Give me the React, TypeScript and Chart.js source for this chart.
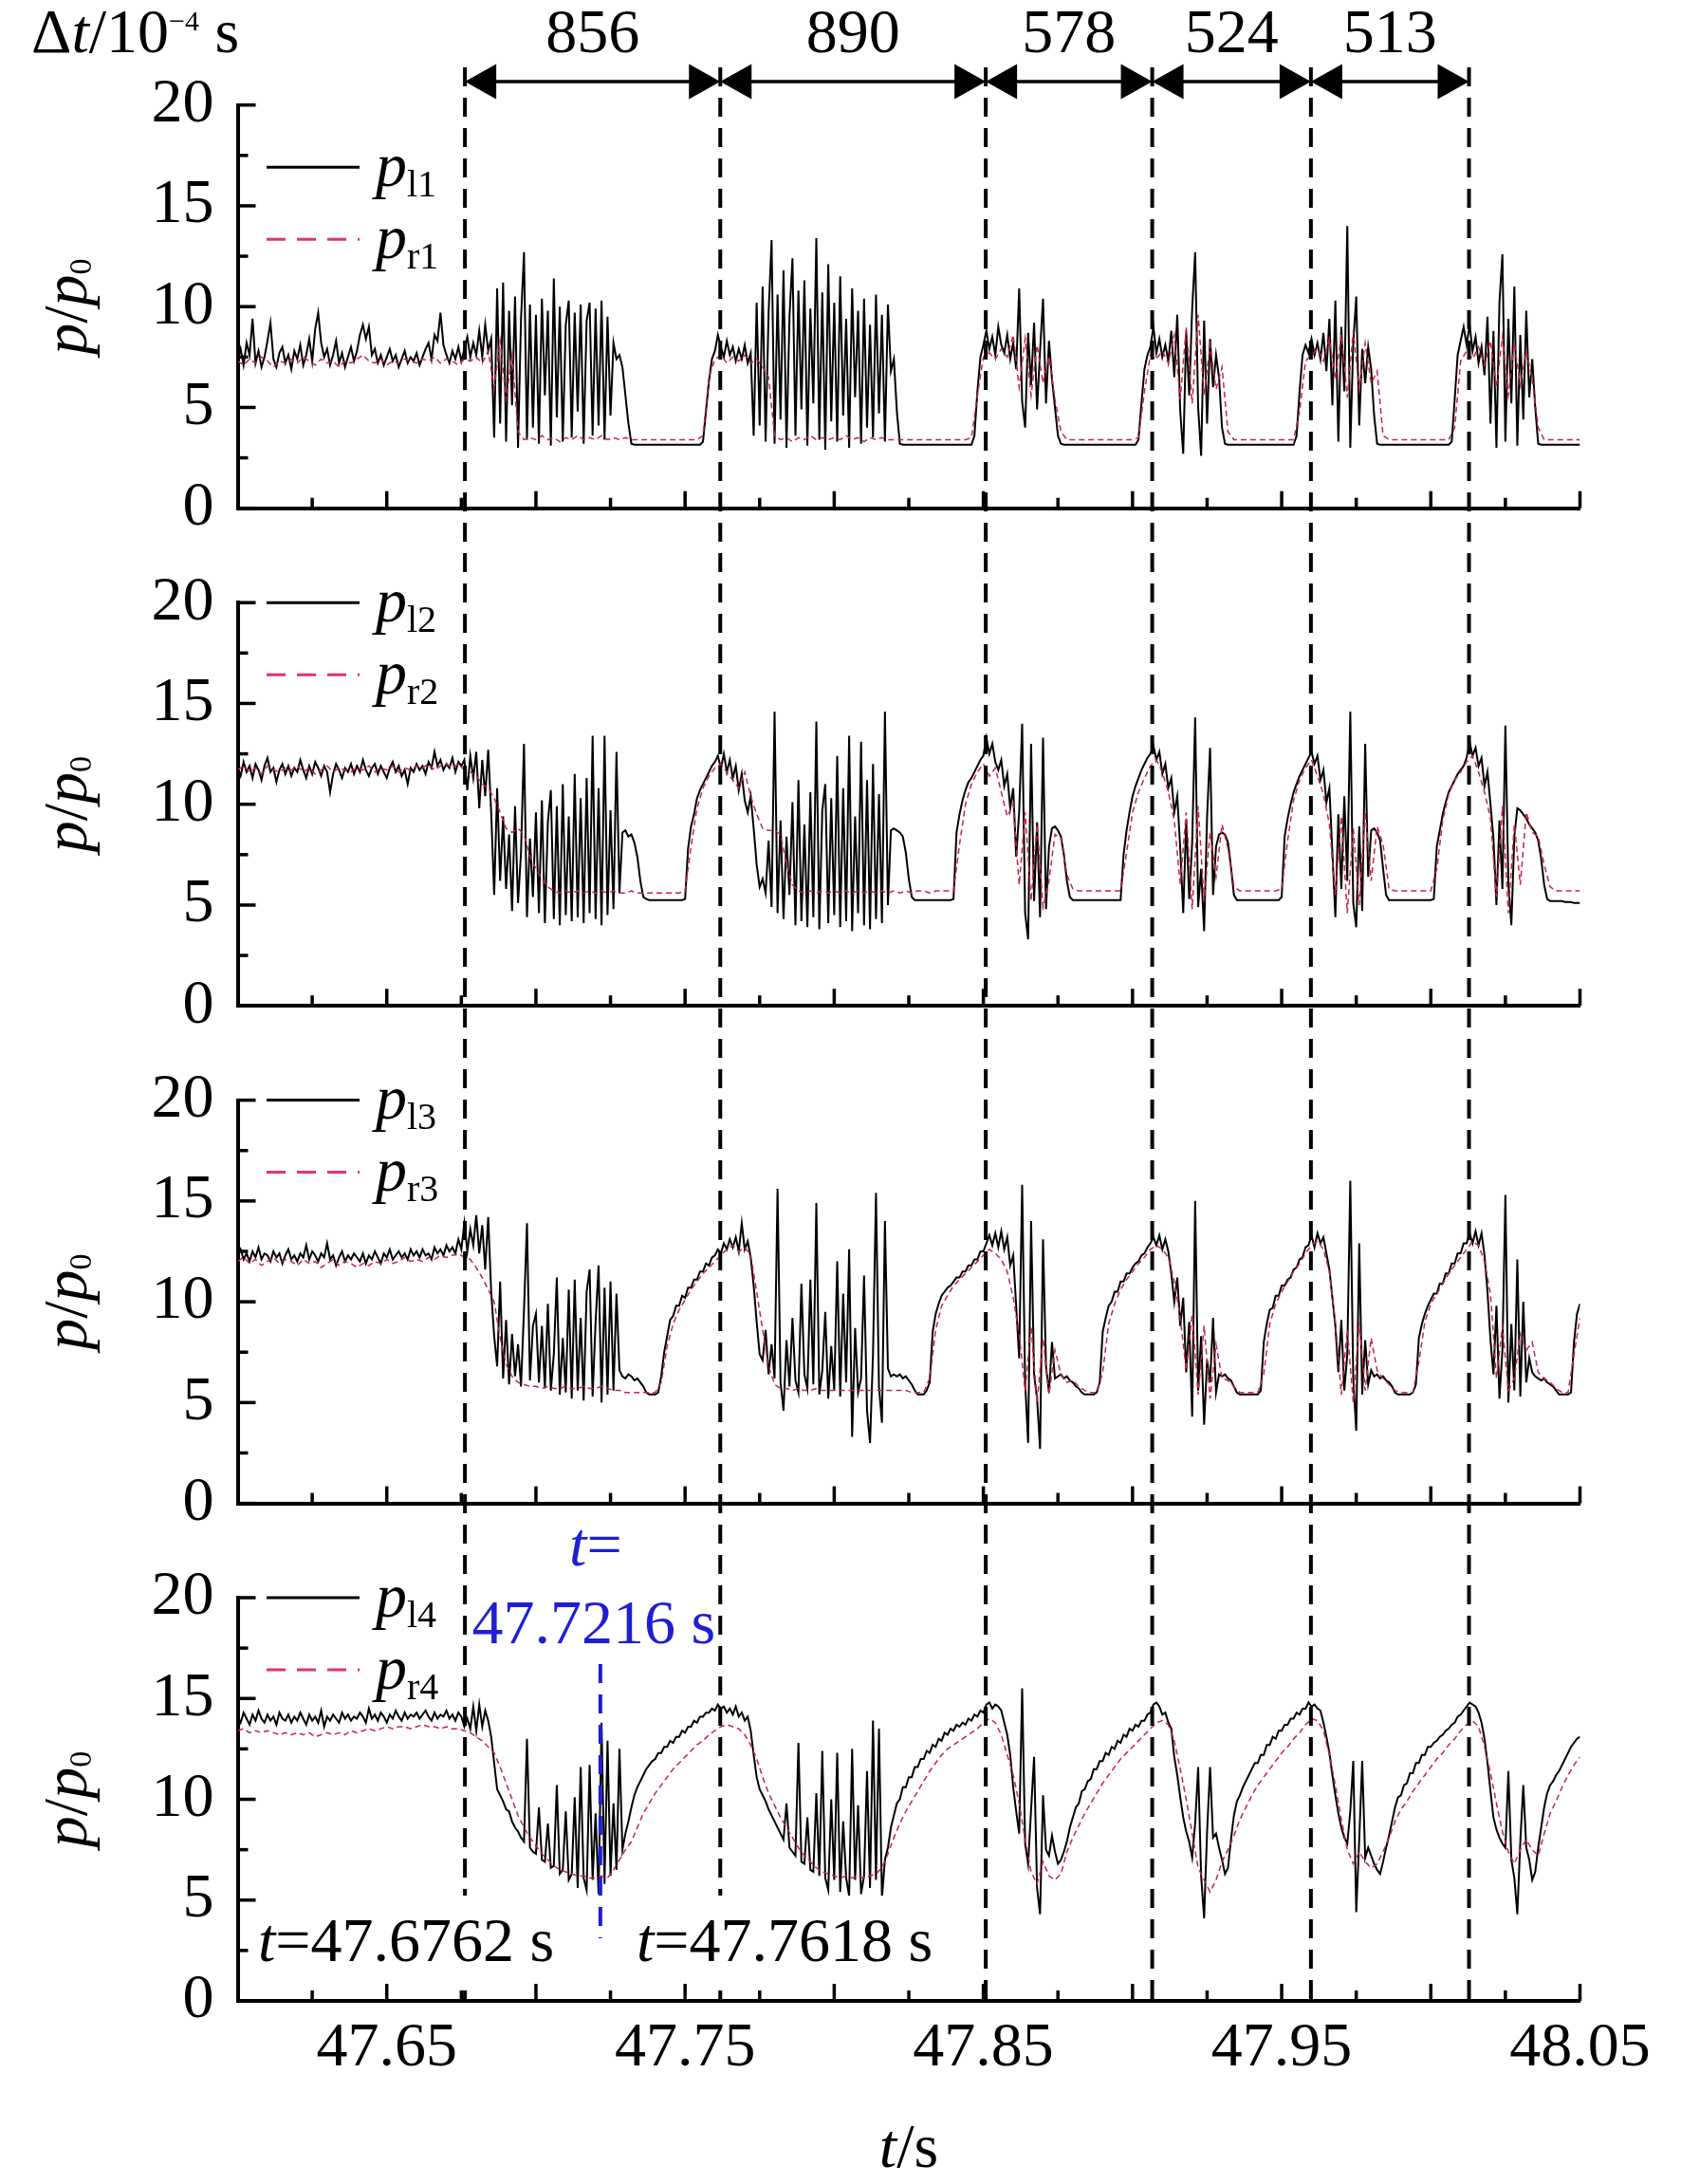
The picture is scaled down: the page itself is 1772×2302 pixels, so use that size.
import React, { useEffect, useRef } from 'react';
import { Chart, registerables } from 'chart.js';

Chart.register(...registerables);

// ---------------- values ----------------
const T0 = 47.6;            // start time of every data row set
const ROW_SPAN = 0.02;      // every row below covers 0.02 s
const DT_L = 0.001;         // p_l sample step inside a row
const DT_R = 0.002;         // p_r sample step inside a row
const X_MIN = 47.6;
const X_MAX = 48.05;
const X_LABELS = [47.65, 47.75, 47.85, 47.95, 48.05];
const X_TICK_STEP = 0.025;
const Y_TICKS = [0, 5, 10, 15, 20];
const Y_MINOR_STEP = 2.5;
const BOUNDARIES = [47.6762, 47.7618, 47.8508, 47.9066, 47.9598, 48.0128];
const INTERVAL_LABELS = ['856', '890', '578', '524', '513'];
const MARK_T = 47.7216;
const LEFT_NAMES = ['l1', 'l2', 'l3', 'l4'];
const RIGHT_NAMES = ['r1', 'r2', 'r3', 'r4'];

// panel 1
const P1_L = [
  [7.3,7.9,7.1,8.2,7.6,9.4,7.2,7.8,7.0,7.5,8.3,9.2,7.4,7.0,7.7,8.0,7.2,7.6,6.9,7.8],
  [7.4,8.1,7.1,7.6,8.4,7.3,8.9,9.7,8.2,7.5,7.9,7.1,7.6,8.3,7.2,7.7,7.0,7.5,8.0,7.3],
  [7.8,8.6,9.1,8.4,9.0,7.6,7.9,7.2,7.6,7.1,7.5,7.9,7.3,7.6,7.0,7.4,7.8,7.2,7.5,7.3],
  [7.7,7.1,7.5,7.9,8.2,7.4,8.6,8.3,9.7,8.1,7.6,7.2,7.8,7.4,8.0,7.3,7.9,8.5,7.5,8.2],
  [7.6,8.8,7.5,9.1,7.8,8.4,3.5,10.9,4.2,11.2,3.3,9.8,5.1,10.5,3.0,9.4,12.7,3.4,10.1,4.0],
  [9.6,3.2,10.4,5.6,9.8,3.1,11.4,4.5,10.0,3.3,9.1,10.3,3.5,9.7,4.8,10.1,3.2,9.3,10.2,3.6],
  [9.9,4.1,10.3,3.4,9.5,4.6,8.2,7.4,7.6,7.0,5.6,4.2,3.2,3.15,3.15,3.15,3.15,3.15,3.15,3.15],
  [3.15,3.15,3.15,3.15,3.15,3.15,3.15,3.15,3.15,3.15,3.15,3.15,3.15,3.15,3.15,3.15,3.3,4.8,6.3,7.4],
  [7.8,8.6,8.0,7.5,8.3,7.6,8.0,7.3,7.9,7.4,8.1,7.2,7.7,3.6,10.2,4.1,11.0,3.3,9.7,13.3],
  [3.2,10.6,4.4,11.8,3.0,9.5,12.4,3.6,10.8,4.9,11.3,3.1,9.9,5.2,13.4,3.4,10.7,2.9,12.1,4.3],
  [10.2,3.3,11.5,4.6,9.4,3.0,10.9,5.5,9.8,3.2,10.4,4.0,9.1,3.5,10.6,4.7,9.6,3.3,10.1,6.8],
  [7.4,4.8,3.2,3.15,3.15,3.15,3.15,3.15,3.15,3.15,3.15,3.15,3.15,3.15,3.15,3.15,3.15,3.15,3.15,3.15],
  [3.15,3.15,3.15,3.15,3.15,3.15,3.15,3.6,5.8,7.5,8.1,8.8,7.9,8.5,7.6,9.0,8.1,7.7,8.6,7.4],
  [8.2,6.9,10.9,5.3,4.0,8.7,6.1,9.2,4.9,7.8,10.4,5.2,8.3,6.4,5.0,3.6,3.2,3.15,3.15,3.15],
  [3.15,3.15,3.15,3.15,3.15,3.15,3.15,3.15,3.15,3.15,3.15,3.15,3.15,3.15,3.15,3.15,3.15,3.15,3.15,3.15],
  [3.15,3.15,3.4,5.2,6.9,7.6,8.0,9.0,7.7,8.4,7.5,8.1,7.3,8.8,6.5,9.6,4.8,2.7,8.7,5.6],
  [9.9,12.7,5.0,2.6,9.3,4.2,8.4,6.0,7.6,6.5,4.0,3.2,3.15,3.15,3.15,3.15,3.15,3.15,3.15,3.15],
  [3.15,3.15,3.15,3.15,3.15,3.15,3.15,3.15,3.15,3.15,3.15,3.15,3.15,3.15,3.15,3.6,5.8,7.6,8.1,7.7],
  [8.4,7.6,8.2,7.4,8.7,6.8,9.4,5.1,10.3,3.3,9.0,5.8,14.0,3.0,8.2,10.5,4.1,7.9,6.2,8.0],
  [6.9,4.6,3.2,3.15,3.15,3.15,3.15,3.15,3.15,3.15,3.15,3.15,3.15,3.15,3.15,3.15,3.15,3.15,3.15,3.15],
  [3.15,3.15,3.15,3.15,3.15,3.15,3.15,3.3,5.4,7.6,8.3,9.0,8.1,9.1,7.8,8.5,7.2,8.0,6.6,9.5],
  [4.2,8.8,3.0,10.2,12.6,3.3,9.4,5.2,11.0,3.1,8.6,4.4,9.8,5.5,7.4,5.0,3.2,3.15,3.15,3.15],
  [3.15,3.15,3.15,3.15,3.15,3.15,3.15,3.15,3.15,3.15,3.15],
];
const P1_R = [
  [7.3,7.1,7.4,7.2,7.5,7.3,7.0,7.3,7.2,7.4],
  [7.2,7.5,7.3,7.1,7.4,7.2,7.3,7.0,7.3,7.2],
  [7.4,7.6,7.3,7.2,7.4,7.1,7.3,7.2,7.4,7.3],
  [7.2,7.4,7.3,7.5,7.2,7.4,7.3,7.1,7.4,7.3],
  [7.5,7.2,7.8,6.0,8.3,5.4,7.6,3.8,3.4,3.5],
  [3.4,3.6,3.4,3.5,3.3,3.5,3.4,3.6,3.4,3.5],
  [3.4,3.6,3.4,3.5,3.4,3.5,3.4,3.4,3.4,3.4],
  [3.4,3.4,3.4,3.4,3.4,3.4,3.4,3.4,3.6,6.5],
  [7.4,7.6,7.2,7.5,7.3,7.6,7.2,7.4,7.0,6.5],
  [3.6,3.4,3.5,3.3,3.5,3.4,3.6,3.4,3.5,3.4],
  [3.5,3.4,3.6,3.4,3.5,3.3,3.5,3.4,3.5,3.4],
  [3.4,3.4,3.4,3.4,3.4,3.4,3.4,3.4,3.4,3.4],
  [3.4,3.4,3.4,3.5,5.6,7.5,7.7,7.4,7.9,7.5],
  [8.6,6.0,8.4,5.6,8.1,6.2,7.5,5.4,3.8,3.4],
  [3.4,3.4,3.4,3.4,3.4,3.4,3.4,3.4,3.4,3.4],
  [3.4,3.5,5.8,7.6,7.4,7.8,7.2,8.6,5.4,9.0],
  [5.2,9.6,5.6,8.1,5.9,7.0,3.8,3.4,3.4,3.4],
  [3.4,3.4,3.4,3.4,3.4,3.4,3.4,3.4,4.8,7.3],
  [7.6,7.9,7.3,8.4,6.4,8.6,5.5,8.8,5.9,8.2],
  [6.2,6.8,3.6,3.4,3.4,3.4,3.4,3.4,3.4,3.4],
  [3.4,3.4,3.4,3.4,4.0,7.3,7.8,7.4,8.0,7.1],
  [8.3,6.0,8.5,5.6,8.2,6.1,7.8,6.4,4.0,3.4],
  [3.4,3.4,3.4,3.4,3.4,3.4],
];

// panel 2
const P2_L = [
  [11.8,11.4,12.1,11.6,11.9,11.3,12.0,11.7,11.2,11.9,12.3,11.6,11.8,11.1,11.7,12.0,11.5,11.9,11.4,11.8],
  [11.6,12.2,11.7,11.3,11.9,11.5,12.1,11.8,11.4,11.9,11.6,10.6,11.5,12.0,11.7,11.3,11.8,11.6,12.0,11.5],
  [11.9,11.6,12.2,11.7,11.4,11.8,12.0,11.5,11.9,11.6,11.3,11.8,12.1,11.6,11.9,11.4,11.7,11.0,11.8,11.6],
  [12.0,11.7,11.9,11.5,12.1,11.8,12.6,11.9,12.2,11.7,12.0,11.8,12.3,11.6,12.1,11.9,12.2,10.7,12.4,11.3],
  [12.6,9.8,12.2,10.4,12.7,9.6,5.5,10.8,6.2,9.4,5.8,8.5,4.7,9.9,5.1,7.6,13.0,4.4,8.3,5.4],
  [9.6,4.6,10.2,4.1,9.1,10.7,4.3,9.9,4.0,11.0,4.5,9.4,4.2,11.5,4.4,10.3,4.1,11.3,4.6,13.4],
  [4.3,10.8,4.0,13.4,4.5,9.7,4.8,12.6,5.6,8.6,8.7,8.4,8.5,8.1,7.4,6.2,5.4,5.3,5.25,5.25],
  [5.25,5.25,5.25,5.25,5.25,5.25,5.25,5.25,5.25,5.25,5.3,7.8,8.9,9.5,10.3,10.7,11.0,11.3,11.6,11.9],
  [12.1,12.4,11.8,12.5,11.6,12.2,11.3,11.9,10.7,11.5,10.2,9.6,10.4,8.8,7.0,5.9,6.3,5.6,8.2,4.9],
  [14.6,4.6,9.2,4.3,8.4,5.5,10.1,4.0,11.2,4.2,9.0,3.9,10.6,4.4,14.1,3.8,9.7,11.0,4.1,10.3],
  [4.5,12.4,3.9,10.8,4.2,13.4,3.7,9.4,4.6,13.1,4.0,11.2,3.8,12.0,4.3,10.5,4.1,14.6,5.0,8.7],
  [8.8,8.7,8.6,8.4,7.6,6.3,5.4,5.25,5.25,5.25,5.25,5.25,5.25,5.25,5.25,5.25,5.25,5.25,5.25,5.25],
  [5.3,8.6,9.5,10.2,10.7,11.1,11.3,11.6,11.9,12.2,12.4,13.3,12.5,13.0,12.1,11.7,12.2,10.9,11.5,9.8],
  [10.8,7.4,9.6,14.0,4.6,3.3,13.0,5.2,9.1,4.4,13.3,4.8,7.9,8.8,8.9,8.7,8.4,7.5,6.2,5.4],
  [5.25,5.25,5.25,5.25,5.25,5.25,5.25,5.25,5.25,5.25,5.25,5.25,5.25,5.25,5.25,5.25,5.25,7.5,8.7,9.6],
  [10.4,10.9,11.3,11.7,12.0,12.3,12.5,12.9,12.2,12.6,11.5,12.0,10.8,11.3,9.6,10.4,7.8,4.6,9.2,5.3],
  [8.1,14.3,4.9,6.8,3.7,9.4,12.8,5.5,7.9,8.5,8.6,8.5,8.1,6.9,5.5,5.25,5.25,5.25,5.25,5.25],
  [5.25,5.25,5.25,5.25,5.25,5.25,5.25,5.25,5.25,5.25,5.4,8.4,9.3,10.0,10.6,11.0,11.4,11.7,12.0,12.3],
  [12.6,12.0,12.4,11.2,11.7,10.1,10.8,7.6,4.4,9.5,5.8,10.4,6.2,14.6,5.1,3.9,8.9,4.7,13.0,6.4],
  [8.7,8.8,8.6,8.2,6.8,5.5,5.25,5.25,5.25,5.25,5.25,5.25,5.25,5.25,5.25,5.25,5.25,5.25,5.25,5.25],
  [5.25,5.3,7.9,8.7,9.5,10.1,10.6,10.9,11.2,11.5,11.7,11.9,12.3,13.1,12.4,12.8,11.9,12.3,10.9,11.6],
  [10.0,8.3,5.0,9.2,5.8,13.9,6.1,4.0,8.4,9.8,9.7,9.5,9.3,9.0,8.8,8.6,8.2,7.3,6.0,5.3],
  [5.2,5.2,5.2,5.2,5.2,5.15,5.15,5.15,5.1,5.1,5.1],
];
const P2_R = [
  [11.7,11.9,11.6,11.8,11.5,11.9,11.7,11.6,11.8,11.7],
  [11.9,11.6,11.8,11.5,11.7,11.9,11.6,11.8,11.7,11.6],
  [11.8,11.7,11.9,11.6,11.8,11.7,11.9,11.6,11.8,11.7],
  [11.9,11.8,12.0,11.7,11.9,12.0,11.8,12.0,11.7,11.6],
  [11.4,11.0,10.8,10.3,9.6,8.8,8.6,8.8,8.5,7.4],
  [6.8,6.3,5.9,5.7,5.6,5.7,5.6,5.7,5.6,5.7],
  [5.6,5.7,5.6,5.7,5.6,5.6,5.7,5.6,5.6,5.6],
  [5.6,5.6,5.6,5.6,5.6,5.7,7.9,9.8,10.8,11.4],
  [11.8,12.0,11.6,11.2,10.8,11.6,10.4,9.5,8.8,8.7],
  [8.7,8.5,7.0,6.0,5.7,5.6,5.7,5.6,5.7,5.6],
  [5.7,5.6,5.7,5.6,5.7,5.6,5.7,5.6,5.7,5.6],
  [5.7,5.6,5.7,5.6,5.7,5.7,5.6,5.7,5.7,5.7],
  [5.7,8.0,10.0,11.0,11.6,12.0,11.4,11.8,10.6,9.4],
  [10.0,6.0,9.6,5.2,9.0,4.9,6.2,8.5,8.3,6.5],
  [5.8,5.7,5.7,5.7,5.7,5.7,5.7,5.7,5.7,7.6],
  [9.6,10.6,11.3,11.9,12.2,11.6,10.6,9.2,6.0,9.6],
  [4.8,9.9,5.2,8.6,6.4,9.0,7.8,5.9,5.7,5.7],
  [5.7,5.7,5.7,5.7,5.7,5.8,8.2,10.2,11.2,11.8],
  [12.2,11.4,10.5,9.0,5.5,9.4,4.6,8.8,5.0,9.6],
  [6.2,8.9,8.0,5.8,5.7,5.7,5.7,5.7,5.7,5.7],
  [5.7,6.8,9.2,10.5,11.2,11.6,12.1,12.4,11.6,10.6],
  [9.3,5.4,9.9,4.6,9.0,6.0,9.6,8.6,8.4,7.0],
  [5.9,5.7,5.7,5.7,5.7,5.7],
];

// panel 3
const P3_L = [
  [12.3,12.6,12.1,12.4,12.0,12.5,12.2,12.7,12.1,12.4,12.3,12.0,12.5,12.2,12.4,11.9,12.3,12.6,12.1,12.3],
  [12.0,12.4,12.2,12.8,12.1,12.5,12.3,12.0,12.4,12.2,12.9,12.1,12.3,11.8,12.2,12.5,12.0,12.3,12.1,12.4],
  [12.2,12.0,12.4,11.9,12.3,12.1,12.5,12.2,11.9,12.4,12.2,12.6,12.1,12.3,12.5,12.2,12.4,12.1,12.6,12.3],
  [12.5,12.2,12.6,12.3,12.4,12.1,12.7,12.4,12.6,12.3,12.8,12.5,12.7,12.4,13.1,12.6,13.9,12.5,13.6,12.8],
  [14.3,12.4,13.8,11.6,14.2,10.5,8.3,6.8,11.0,6.2,9.1,5.9,8.4,6.3,7.9,5.8,9.6,13.9,6.1,8.8],
  [9.4,6.0,8.8,5.7,9.9,5.6,7.4,11.2,5.4,8.2,5.5,10.6,5.2,11.1,5.6,9.2,5.1,10.5,11.6,5.3],
  [9.0,11.8,5.0,10.7,5.4,11.0,5.6,10.4,6.6,6.3,6.2,6.4,6.3,6.1,6.2,6.0,5.8,5.5,5.4,5.4],
  [5.4,5.5,6.3,7.5,8.3,9.1,9.3,9.8,9.8,10.3,10.2,10.7,10.7,11.1,11.1,11.5,11.5,11.9,11.8,12.2],
  [12.3,12.6,12.4,12.9,12.6,13.1,12.7,13.2,12.5,13.9,12.6,13.0,12.2,10.8,9.0,7.4,7.1,8.6,6.4,7.9],
  [6.2,15.6,6.0,4.6,8.1,5.8,9.2,6.1,5.5,10.9,6.4,5.7,11.1,5.9,14.9,5.4,6.6,9.5,5.2,7.8],
  [5.6,12.0,5.3,10.4,6.0,12.6,3.3,8.7,5.5,6.2,11.3,4.6,3.0,7.4,15.4,5.8,4.0,14.0,6.7,6.3],
  [6.4,6.3,6.4,6.2,6.3,6.1,5.9,5.6,5.4,5.4,5.4,5.6,6.0,8.5,9.4,9.9,10.3,10.5,10.7,10.8],
  [11.0,11.2,11.2,11.5,11.5,11.8,11.8,12.1,12.1,12.5,12.5,12.9,13.3,12.8,13.4,12.7,13.5,12.6,13.2,11.8],
  [12.3,9.8,7.2,15.8,6.0,3.0,14.0,6.4,5.2,2.7,13.1,6.8,5.5,8.0,6.2,6.3,6.4,6.2,6.3,6.1],
  [6.0,5.8,5.7,5.5,5.4,5.4,5.4,5.4,5.5,6.0,8.5,9.2,9.8,10.0,10.5,10.5,11.0,11.0,11.4,11.4],
  [11.7,11.9,12.0,12.3,12.4,12.7,12.9,13.2,12.8,13.3,12.6,13.1,12.5,11.4,10.0,11.2,8.8,10.2,6.5,9.0],
  [4.3,15.0,5.6,8.3,3.9,7.1,6.0,9.2,5.5,6.4,6.3,6.4,6.2,6.1,5.8,5.5,5.4,5.4,5.4,5.4],
  [5.4,5.4,5.4,5.6,8.0,8.9,9.6,9.7,10.3,10.3,10.8,10.8,11.1,11.2,11.6,11.7,12.1,12.2,12.7,12.8],
  [13.3,12.7,13.4,12.9,13.2,12.4,11.6,10.2,8.8,6.5,9.1,5.6,7.4,16.0,6.2,3.6,12.9,5.4,8.1,5.9],
  [6.6,6.3,6.4,6.2,6.3,6.1,6.0,5.8,5.5,5.4,5.4,5.4,5.4,5.4,5.5,5.9,8.2,8.9,9.4,9.8],
  [10.1,10.4,10.4,10.9,10.9,11.4,11.4,11.9,11.9,12.4,12.4,12.9,12.9,13.4,12.9,13.5,12.8,13.4,12.3,10.5],
  [8.1,6.4,9.8,5.2,7.6,15.3,5.0,8.9,5.6,12.1,5.3,10.0,6.0,7.2,6.5,6.3,6.2,6.1,6.2,6.0],
  [5.9,5.8,5.6,5.4,5.4,5.4,5.4,5.5,8.0,9.4,9.9],
];
const P3_R = [
  [12.0,12.2,11.9,12.1,11.8,12.0,12.2,11.9,12.1,12.0],
  [11.8,12.1,11.9,12.0,11.7,11.9,12.1,11.8,12.0,11.9],
  [11.7,11.9,11.8,12.0,11.9,12.1,11.9,12.0,12.2,12.0],
  [12.1,12.0,12.2,12.1,12.3,12.2,12.3,12.4,12.2,12.1],
  [11.7,11.2,10.6,10.0,8.2,6.9,6.3,6.0,5.9,5.8],
  [5.8,5.7,5.8,5.7,5.7,5.8,5.7,5.7,5.8,5.7],
  [5.7,5.8,5.7,5.6,5.6,5.5,5.5,5.5,5.5,5.5],
  [5.5,6.0,7.8,8.9,9.6,10.1,10.6,11.0,11.4,11.7],
  [12.0,12.3,12.6,12.8,12.5,12.7,12.3,10.5,8.6,6.8],
  [5.9,5.7,5.7,5.6,5.7,5.6,5.6,5.7,5.6,5.6],
  [5.6,5.6,5.6,5.6,5.6,5.6,5.6,5.6,5.6,5.6],
  [5.6,5.6,5.6,5.5,5.5,5.5,6.2,8.6,9.8,10.3],
  [10.8,11.1,11.4,11.7,12.0,12.3,12.6,12.4,12.1,11.5],
  [10.2,8.4,5.6,8.8,5.0,8.2,5.4,7.6,6.4,6.0],
  [6.1,5.8,5.6,5.5,5.5,6.5,8.9,9.9,10.6,11.1],
  [11.5,11.9,12.2,12.6,12.8,12.6,12.2,11.0,9.2,6.6],
  [9.4,5.4,8.8,5.2,7.9,6.2,6.1,5.8,5.5,5.5],
  [5.5,5.5,6.4,8.9,9.9,10.5,11.0,11.5,11.9,12.4],
  [12.8,13.0,12.6,11.5,9.0,5.4,8.6,5.0,9.0,5.6],
  [8.2,6.6,6.2,5.9,5.6,5.5,5.5,5.5,7.0,9.0],
  [9.9,10.4,10.9,11.4,11.8,12.2,12.6,13.0,12.8,12.0],
  [10.4,6.2,8.8,5.6,6.2,8.4,7.6,8.0,6.5,6.2],
  [6.0,5.7,5.5,5.5,7.4,9.2],
];

// panel 4
const P4_L = [
  [14.1,13.8,14.3,14.0,13.7,14.2,13.9,14.4,14.0,13.8,14.2,13.9,14.1,13.7,14.3,14.0,13.9,14.2,13.8,14.1],
  [13.9,14.3,14.0,13.7,14.2,13.9,14.1,13.8,14.4,13.6,14.1,13.9,14.2,14.0,13.8,14.3,14.0,14.2,13.9,14.1],
  [14.0,14.3,14.1,13.8,14.5,14.0,14.2,13.9,14.3,14.1,13.8,14.2,14.0,14.4,14.1,13.9,14.3,14.0,14.2,14.1],
  [14.3,14.0,14.2,14.4,14.1,13.9,14.3,14.0,14.2,14.1,14.4,14.0,14.2,13.9,14.3,14.1,13.6,14.0,13.5,14.6],
  [13.4,14.7,13.6,14.4,13.9,13.1,11.8,10.5,10.2,9.9,9.5,9.4,8.9,8.6,8.4,8.1,7.9,13.0,7.6,7.4],
  [7.3,9.6,7.0,6.9,8.8,6.6,6.7,10.7,6.3,6.5,9.4,6.0,6.3,10.1,5.6,11.6,6.1,5.5,11.7,6.0],
  [9.3,5.3,13.8,5.8,12.9,6.2,9.8,6.5,12.5,7.5,8.3,8.9,9.6,10.2,10.6,10.9,11.2,11.5,11.7,11.9],
  [12.0,12.3,12.3,12.6,12.6,12.9,12.8,13.1,13.1,13.4,13.3,13.6,13.6,13.9,13.8,14.1,14.1,14.3,14.3,14.5],
  [14.4,14.7,14.5,14.6,14.3,14.5,14.2,14.6,14.1,14.3,13.9,14.1,13.4,12.2,11.1,10.5,10.2,9.9,9.5,9.2],
  [8.9,8.6,8.3,8.0,9.8,7.6,7.4,7.2,12.8,6.9,6.8,9.1,6.5,6.4,10.3,6.2,12.4,6.1,5.5,10.0],
  [6.0,12.3,5.4,8.9,6.1,5.2,12.5,6.0,9.7,5.3,6.2,11.4,5.6,13.9,6.0,13.5,5.1,7.0,7.6,8.6],
  [9.2,9.8,10.0,10.6,10.6,11.1,11.1,11.6,11.6,12.0,12.0,12.4,12.3,12.7,12.6,13.0,12.9,13.3,13.2,13.5],
  [13.4,13.7,13.6,13.8,13.7,14.0,13.9,14.2,14.1,14.4,14.3,14.7,14.8,14.5,14.7,14.6,14.4,13.8,13.2,12.2],
  [10.6,9.4,8.3,15.5,7.8,6.8,9.5,12.1,5.6,4.3,10.2,7.5,7.2,8.2,7.4,6.8,7.0,7.4,7.9,8.6],
  [9.1,9.6,9.8,10.4,10.5,10.9,11.0,11.5,11.5,11.9,11.9,12.3,12.2,12.6,12.5,12.9,12.8,13.2,13.1,13.5],
  [13.4,13.7,13.6,13.9,13.9,14.2,14.3,14.7,14.8,14.6,14.2,14.3,13.8,13.5,12.1,11.2,10.1,9.1,8.4,7.9],
  [7.1,8.8,11.6,6.2,4.1,8.4,11.6,8.1,8.3,7.6,7.0,6.3,6.6,8.0,9.2,9.9,10.2,10.6,10.9,11.2],
  [11.5,11.8,11.8,12.2,12.2,12.7,12.7,13.1,13.0,13.4,13.4,13.7,13.7,14.0,14.0,14.3,14.2,14.5,14.5,14.8],
  [14.6,14.7,14.5,14.4,13.8,13.1,12.3,11.2,10.2,9.3,8.6,8.1,7.8,9.4,11.9,4.4,8.0,11.9,7.1,7.6],
  [7.2,6.8,6.5,6.3,6.9,7.6,8.2,8.9,9.6,10.1,10.2,10.7,10.8,11.3,11.3,11.8,11.8,12.2,12.2,12.6],
  [12.6,12.8,12.9,13.1,13.2,13.4,13.5,13.7,13.8,14.1,14.2,14.4,14.6,14.8,14.7,14.6,14.3,13.8,13.0,11.8],
  [10.4,9.1,8.5,8.1,7.8,7.6,11.4,7.0,6.1,4.3,7.9,10.7,7.6,7.0,6.0,6.4,7.6,8.6,9.6,10.3],
  [10.7,10.9,11.2,11.4,11.7,12.0,12.3,12.6,12.8,13.0,13.1],
];
const P4_R = [
  [13.4,13.5,13.3,13.4,13.3,13.4,13.3,13.2,13.3,13.2],
  [13.3,13.2,13.3,13.1,13.2,13.3,13.2,13.3,13.2,13.4],
  [13.3,13.4,13.5,13.4,13.5,13.6,13.5,13.6,13.6,13.5],
  [13.6,13.7,13.6,13.6,13.5,13.6,13.5,13.5,13.4,13.3],
  [13.1,12.9,12.6,12.3,11.6,10.8,10.0,9.2,8.6,8.1],
  [7.7,7.3,7.0,6.7,6.5,6.4,6.3,6.2,6.2,6.1],
  [6.1,6.2,6.1,6.5,7.0,7.5,7.9,8.6,9.3,9.8],
  [10.3,10.7,11.1,11.5,11.8,12.1,12.4,12.7,12.9,13.2],
  [13.4,13.6,13.7,13.6,13.5,13.2,12.7,12.0,11.1,10.3],
  [9.7,9.1,8.6,8.1,7.6,7.2,6.9,6.6,6.4,6.3],
  [6.2,6.1,6.2,6.1,6.2,6.1,6.2,6.3,6.6,7.3],
  [8.1,8.8,9.4,9.9,10.4,10.9,11.4,11.8,12.2,12.5],
  [12.7,12.9,13.1,13.3,13.5,13.8,14.0,13.8,13.2,12.2],
  [11.2,9.8,8.0,6.4,5.8,6.9,6.2,6.0,6.3,7.4],
  [8.1,8.7,9.3,9.8,10.3,10.8,11.2,11.6,12.0,12.3],
  [12.6,12.9,13.2,13.5,13.8,13.9,13.7,12.9,11.5,10.0],
  [8.3,6.6,6.0,5.4,6.0,6.9,7.5,8.2,9.0,9.6],
  [10.2,10.7,11.1,11.5,11.9,12.3,12.6,13.0,13.3,13.7],
  [14.0,13.9,13.4,12.2,10.7,9.0,7.5,6.8,7.4,6.9],
  [6.6,6.8,7.4,8.1,8.9,9.5,9.9,10.4,10.8,11.2],
  [11.6,12.0,12.3,12.7,13.0,13.4,13.7,13.9,13.6,12.6],
  [11.3,9.8,8.4,7.4,6.8,7.5,8.0,7.5,7.2,8.3],
  [9.3,9.9,10.6,11.2,11.7,12.1],
];

const PANELS = [
  { l: P1_L, r: P1_R },
  { l: P2_L, r: P2_R },
  { l: P3_L, r: P3_R },
  { l: P4_L, r: P4_R },
];

// ---------------- layout and style ----------------
const W = 1772;
const H = 2302;
const PLOT_LEFT = 250.5;
const PLOT_RIGHT = 1665.5;
const PANEL_TOPS = [110.7, 635.2, 1159.6, 1684];
const PANEL_H = 425;
const XAXIS_H = 100;
const LEGEND_DY = [65.5, 0, 0, 0];
const FAMILY = "'Liberation Serif', 'Times New Roman', serif";
const RED_LINE = 'rgb(200, 35, 70)';
const RED_LEGEND = 'rgb(232, 50, 100)';
const BLUE = 'rgb(30, 30, 215)';

const fnt = (size: number, italic = false) => `${italic ? 'italic ' : ''}${size}px ${FAMILY}`;

function toPts(rows: number[][], dt: number) {
  const out: { x: number; y: number }[] = [];
  rows.forEach((row, r) => {
    row.forEach((v, k) => out.push({ x: T0 + r * ROW_SPAN + k * dt, y: v }));
  });
  return out;
}

type Seg = { t: string; font: string; dy?: number };

function richWidth(ctx: CanvasRenderingContext2D, segs: Seg[]) {
  let w = 0;
  for (const s of segs) {
    ctx.font = s.font;
    w += ctx.measureText(s.t).width;
  }
  return w;
}

function drawRich(ctx: CanvasRenderingContext2D, x: number, y: number, segs: Seg[], align: 'left' | 'center' = 'left') {
  const total = richWidth(ctx, segs);
  let cx = align === 'center' ? x - total / 2 : x;
  ctx.textAlign = 'left';
  ctx.textBaseline = 'alphabetic';
  for (const s of segs) {
    ctx.font = s.font;
    ctx.fillText(s.t, cx, y + (s.dy || 0));
    cx += ctx.measureText(s.t).width;
  }
  return total;
}

function seg(ctx: CanvasRenderingContext2D, x1: number, y1: number, x2: number, y2: number) {
  ctx.beginPath();
  ctx.moveTo(x1, y1);
  ctx.lineTo(x2, y2);
  ctx.stroke();
}

function arrowHead(ctx: CanvasRenderingContext2D, tipX: number, y: number, dir: number) {
  ctx.beginPath();
  ctx.moveTo(tipX, y);
  ctx.lineTo(tipX + dir * 33, y - 18.5);
  ctx.lineTo(tipX + dir * 33, y + 18.5);
  ctx.closePath();
  ctx.fill();
}

function decorPlugin(i: number) {
  return {
    id: 'decor' + i,
    afterDraw(chart: any) {
      const ctx = chart.ctx as CanvasRenderingContext2D;
      const xs = chart.scales.x;
      const ys = chart.scales.y;
      const a = chart.chartArea;
      const px = (t: number) => xs.getPixelForValue(t);
      ctx.save();
      ctx.fillStyle = '#000';

      // legend
      const ly = a.top + LEGEND_DY[i];
      ctx.setLineDash([]);
      ctx.strokeStyle = '#000';
      ctx.lineWidth = 3;
      seg(ctx, 281, ly, 379, ly);
      drawRich(ctx, 396, ly + 19.5, [
        { t: 'p', font: fnt(66, true) },
        { t: LEFT_NAMES[i], font: fnt(40), dy: 11 },
      ]);
      const ly2 = ly + 76;
      ctx.strokeStyle = RED_LEGEND;
      ctx.setLineDash([20, 12]);
      seg(ctx, 281, ly2, 379, ly2);
      ctx.setLineDash([]);
      drawRich(ctx, 396, ly2 + 19.5, [
        { t: 'p', font: fnt(66, true) },
        { t: RIGHT_NAMES[i], font: fnt(40), dy: 11 },
      ]);

      // y title
      ctx.save();
      ctx.translate(91, (a.top + a.bottom) / 2);
      ctx.rotate(-Math.PI / 2);
      drawRich(ctx, 0, 0, [
        { t: 'p', font: fnt(66, true) },
        { t: '/', font: fnt(66) },
        { t: 'p', font: fnt(66, true) },
        { t: '0', font: fnt(34), dy: 5 },
      ], 'center');
      ctx.restore();

      if (i === 3) {
        // vertical boundaries across all panels
        ctx.strokeStyle = '#000';
        ctx.lineWidth = 4;
        ctx.setLineDash([20, 12]);
        for (const b of BOUNDARIES) seg(ctx, px(b), 71, px(b), a.bottom);
        ctx.setLineDash([]);

        // arrows and interval labels
        const AY = 86;
        ctx.lineWidth = 3.5;
        for (let k = 0; k < INTERVAL_LABELS.length; k++) {
          const xa = px(BOUNDARIES[k]);
          const xb = px(BOUNDARIES[k + 1]);
          seg(ctx, xa + 20, AY, xb - 20, AY);
          arrowHead(ctx, xa, AY, 1);
          arrowHead(ctx, xb, AY, -1);
          drawRich(ctx, (xa + xb) / 2, 55, [{ t: INTERVAL_LABELS[k], font: fnt(66) }], 'center');
        }
        drawRich(ctx, 33, 55, [
          { t: '\u0394', font: fnt(66) },
          { t: 't', font: fnt(66, true) },
          { t: '/10', font: fnt(66) },
          { t: '\u22124', font: fnt(30), dy: -23 },
          { t: ' s', font: fnt(66) },
        ]);

        // blue marker
        const mx = px(MARK_T);
        ctx.strokeStyle = BLUE;
        ctx.lineWidth = 4;
        ctx.setLineDash([20, 12]);
        seg(ctx, mx, 1754, mx, 2043);
        ctx.setLineDash([]);
        ctx.fillStyle = BLUE;
        drawRich(ctx, mx - 5, 1650, [{ t: 't', font: fnt(66, true) }, { t: '=', font: fnt(66) }], 'center');
        drawRich(ctx, mx - 7, 1732, [{ t: MARK_T.toFixed(4) + ' s', font: fnt(66) }], 'center');

        // black time labels with white backing
        const labels = [
          { x: 272, t: BOUNDARIES[0] },
          { x: 671, t: BOUNDARIES[1] },
        ];
        for (const L of labels) {
          const segs: Seg[] = [
            { t: 't', font: fnt(66, true) },
            { t: '=' + L.t.toFixed(4) + ' s', font: fnt(66) },
          ];
          const w = richWidth(ctx, segs);
          ctx.fillStyle = '#fff';
          ctx.fillRect(L.x - 6, 1998, w + 12, 100);
          ctx.fillStyle = '#000';
          drawRich(ctx, L.x, 2067, segs);
        }

        // x title
        drawRich(ctx, (a.left + a.right) / 2, 2284, [
          { t: 't', font: fnt(66, true) },
          { t: '/s', font: fnt(66) },
        ], 'center');
      }

      // inward ticks
      ctx.strokeStyle = '#000';
      ctx.lineWidth = 3.5;
      ctx.setLineDash([]);
      const yMax = Y_TICKS[Y_TICKS.length - 1];
      for (let v = Y_TICKS[0]; v <= yMax + 1e-9; v += Y_MINOR_STEP) {
        const major = Y_TICKS.some((t) => Math.abs(t - v) < 1e-9);
        const y = ys.getPixelForValue(v);
        seg(ctx, a.left, y, a.left + (major ? 19 : 11), y);
      }
      const n = Math.round((X_MAX - X_MIN) / X_TICK_STEP);
      for (let k = 1; k <= n; k++) {
        const x = px(X_MIN + k * X_TICK_STEP);
        seg(ctx, x, a.bottom, x, a.bottom - (k % 2 === 0 ? 18 : 11));
      }
      ctx.restore();
    },
  };
}

function makeConfig(i: number): any {
  const p = PANELS[i];
  const top = PANEL_TOPS[i];
  const isBottom = i === 3;
  return {
    type: 'line',
    data: {
      datasets: [
        {
          label: 'p' + LEFT_NAMES[i],
          data: toPts(p.l, DT_L),
          borderColor: '#000',
          borderWidth: 2,
          pointRadius: 0,
          tension: 0,
          fill: false,
          order: 1,
        },
        {
          label: 'p' + RIGHT_NAMES[i],
          data: toPts(p.r, DT_R),
          borderColor: RED_LINE,
          borderWidth: 1.5,
          borderDash: [6, 4],
          pointRadius: 0,
          tension: 0,
          fill: false,
          order: 0,
        },
      ],
    },
    options: {
      responsive: false,
      animation: false,
      devicePixelRatio: 1,
      events: [],
      layout: {
        padding: {
          left: 0,
          right: W - PLOT_RIGHT,
          top: top,
          bottom: H - (top + PANEL_H) - XAXIS_H,
        },
      },
      plugins: { legend: { display: false }, tooltip: { enabled: false } },
      scales: {
        x: {
          type: 'linear',
          position: 'bottom',
          min: X_MIN,
          max: X_MAX,
          afterBuildTicks: (s: any) => {
            s.ticks = X_LABELS.map((v) => ({ value: v }));
          },
          afterFit: (s: any) => {
            s.height = XAXIS_H;
          },
          grid: { display: false, drawTicks: false },
          border: { display: true, color: '#000', width: 4 },
          ticks: {
            display: isBottom,
            autoSkip: false,
            maxRotation: 0,
            padding: 11,
            color: '#000',
            font: { family: FAMILY, size: 66 },
            callback: (v: any) => Number(v).toFixed(2),
          },
        },
        y: {
          type: 'linear',
          position: 'left',
          min: 0,
          max: 20,
          afterBuildTicks: (s: any) => {
            s.ticks = Y_TICKS.map((v) => ({ value: v }));
          },
          afterFit: (s: any) => {
            s.width = PLOT_LEFT;
          },
          grid: { display: false, drawTicks: false },
          border: { display: true, color: '#000', width: 4 },
          ticks: {
            autoSkip: false,
            padding: 25,
            color: '#000',
            font: { family: FAMILY, size: 66 },
            callback: (v: any) => String(v),
          },
        },
      },
    },
    plugins: [decorPlugin(i)],
  };
}

export default function App() {
  const refs = useRef<(HTMLCanvasElement | null)[]>([]);
  useEffect(() => {
    document.body.style.margin = '0';
    const charts = [0, 1, 2, 3].map((i) => new Chart(refs.current[i] as HTMLCanvasElement, makeConfig(i)));
    return () => charts.forEach((c) => c.destroy());
  }, []);
  return (
    <div style={{ position: 'absolute', left: 0, top: 0, width: W, height: H, background: '#fff', overflow: 'hidden' }}>
      {[0, 1, 2, 3].map((i) => (
        <canvas
          key={i}
          ref={(el) => {
            refs.current[i] = el;
          }}
          width={W}
          height={H}
          style={{ position: 'absolute', left: 0, top: 0, width: W, height: H }}
        />
      ))}
    </div>
  );
}
